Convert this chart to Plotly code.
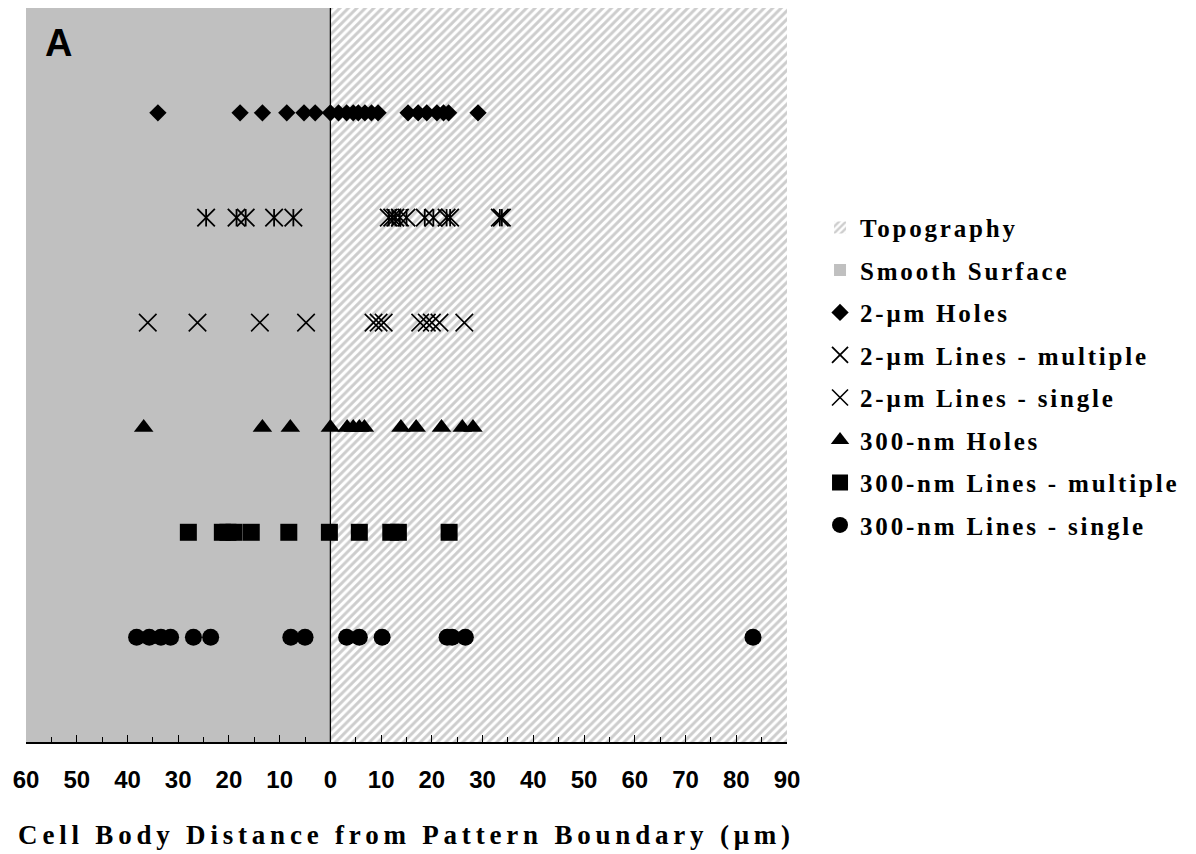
import plotly.graph_objects as go

# ---------------- data ----------------
x_tick_values = [-60, -50, -40, -30, -20, -10, 0, 10, 20, 30, 40, 50, 60, 70, 80, 90]
x_tick_labels = ["60", "50", "40", "30", "20", "10", "0", "10", "20", "30", "40", "50", "60", "70", "80", "90"]

region_names = ["Topography", "Smooth Surface"]
region_left = [0, -60]
region_right = [90, 0]
region_top = 7

series_names = ["2-μm Holes", "2-μm Lines - multiple", "2-μm Lines - single",
                "300-nm Holes", "300-nm Lines - multiple", "300-nm Lines - single"]
series_rows = [6, 5, 4, 3, 2, 1]

holes_2um = [-34, -17.8, -13.4, -8.6, -5.2, -3, 0, 1.6, 3.2, 4.5, 5.5, 6.8, 8.1, 9.4,
             15.3, 17.3, 19, 21, 22.3, 23.3, 29.1]
lines_2um_multiple = [-24.5, -18.5, -16.7, -11.1, -7.3, 11.5, 12.2, 12.8, 13.7, 15,
                      18.6, 20.3, 22.9, 23.6, 33.4, 33.8]
lines_2um_single = [-36, -26.2, -13.9, -4.8, 8.5, 9.5, 10.5, 17.7, 19, 20, 21.5, 26.4]
holes_300nm = [-36.8, -13.4, -7.9, 0, 3.3, 4.5, 5.7, 6.7, 13.9, 16.9, 21.9, 26, 28.1]
lines_300nm_multiple = [-28, -21.3, -20.2, -19, -15.6, -8.2, -0.2, 5.7, 11.9, 13.4, 23.4]
lines_300nm_single = [-38.2, -35.7, -33.4, -31.5, -27, -23.6, -7.8, -5, 3.2, 5.7, 10.2,
                      23, 24, 26.6, 83.3]

series_values = [holes_2um, lines_2um_multiple, lines_2um_single,
                 holes_300nm, lines_300nm_multiple, lines_300nm_single]


def spaced(text, px):
    return f'<span style="letter-spacing:{px}px">{text}</span>'


LEG_LS = 2.8
fig = go.Figure()

# background regions as bars
fig.add_trace(go.Bar(
    x=[(region_left[0] + region_right[0]) / 2], y=[region_top], width=[region_right[0] - region_left[0]],
    base=0, name=spaced(region_names[0], LEG_LS), legendgroup="g0",
    marker=dict(color="white", line=dict(width=0),
                pattern=dict(shape="/", fgcolor="#9c9c9c", bgcolor="white", size=6, solidity=0.5)),
    hoverinfo="skip"))
fig.add_trace(go.Bar(
    x=[(region_left[1] + region_right[1]) / 2], y=[region_top], width=[region_right[1] - region_left[1]],
    base=0, name=spaced(region_names[1], LEG_LS), legendgroup="g1",
    marker=dict(color="#c0c0c0", line=dict(width=0)),
    hoverinfo="skip"))

styles = [
    dict(symbol="diamond", size=13.3, color="black", line=dict(width=0)),
    dict(symbol="x-thin-open", size=17.5, color="black", line=dict(width=1.8, color="black")),
    dict(symbol="x-thin-open", size=17.5, color="black", line=dict(width=1.6, color="black")),
    dict(symbol="triangle-up", size=17, color="black", line=dict(width=0)),
    dict(symbol="square", size=17, color="black", line=dict(width=0)),
    dict(symbol="circle", size=17, color="black", line=dict(width=0)),
]

for i, (nm, row, vals, st) in enumerate(zip(series_names, series_rows, series_values, styles)):
    fig.add_trace(go.Scatter(
        x=vals, y=[row] * len(vals), mode="markers", name=spaced(nm, LEG_LS),
        legendgroup=f"s{i}", marker=st, hoverinfo="x"))
    if i == 1:
        # vertical stroke completing the star marker
        fig.add_trace(go.Scatter(
            x=vals, y=[row] * len(vals), mode="markers", showlegend=False,
            legendgroup=f"s{i}",
            marker=dict(symbol="line-ns-open", size=12.4, color="black",
                        line=dict(width=1.8, color="black")),
            hoverinfo="skip"))

fig.add_shape(type="line", xref="x", yref="paper", x0=0, x1=0, y0=0, y1=1,
              line=dict(color="black", width=1.3), layer="above")

fig.add_annotation(text="A", xref="paper", yref="paper", x=0.0223, y=0.952,
                   xanchor="left", yanchor="middle", showarrow=False,
                   font=dict(family="Liberation Sans, Arial", size=38, color="black", weight="bold"))

fig.update_layout(
    width=1180, height=846,
    margin=dict(l=18, r=401, t=0, b=112, pad=0),
    paper_bgcolor="white", plot_bgcolor="white",
    barmode="overlay", bargap=0,
    showlegend=True,
    legend=dict(x=1.0434, y=0.732, xanchor="left", yanchor="top",
                traceorder="grouped", tracegroupgap=7,
                font=dict(family="Liberation Serif, Times New Roman", size=25, color="black", weight="bold"),
                bgcolor="rgba(0,0,0,0)", borderwidth=0),
    xaxis=dict(range=[-60, 90], tickmode="array", tickvals=x_tick_values, ticktext=x_tick_labels,
               ticks="inside", ticklen=7, tickwidth=1.3, tickcolor="black",
               minor=dict(dtick=5, tick0=0, ticks="inside", ticklen=5, tickwidth=1.3, tickcolor="black",
                          showgrid=False),
               showline=True, linecolor="black", linewidth=2, showgrid=False, zeroline=False,
               ticklabelstandoff=15,
               tickfont=dict(family="Liberation Sans, Arial", size=24, color="black", weight="bold"),
               title=dict(text=spaced("Cell Body Distance from Pattern Boundary (μm)", 4.8),
                          standoff=33,
                          font=dict(family="Liberation Serif, Times New Roman", size=27, color="black",
                                    weight="bold")),
               layer="above traces"),
    yaxis=dict(range=[0, 7], visible=False, showgrid=False, zeroline=False),
)

fig.write_html("out.html")
